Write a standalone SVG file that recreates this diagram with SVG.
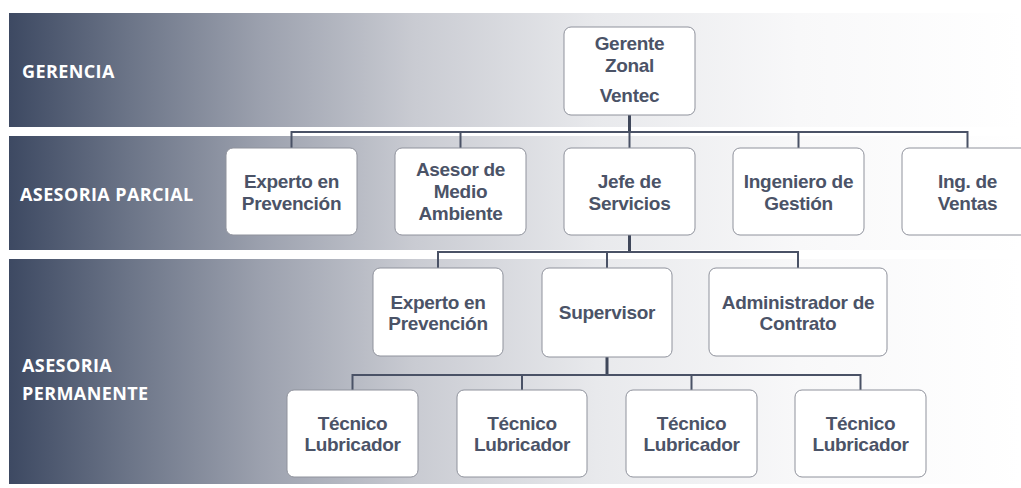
<svg xmlns="http://www.w3.org/2000/svg" width="1021" height="488" viewBox="0 0 1021 488">
<defs>
<linearGradient id="band" x1="9" y1="0" x2="1021" y2="0" gradientUnits="userSpaceOnUse">
<stop offset="0" stop-color="#3d4962"/>
<stop offset="0.12" stop-color="#6c7588"/>
<stop offset="0.25" stop-color="#9ca1ae"/>
<stop offset="0.4" stop-color="#c9cbd2"/>
<stop offset="0.58" stop-color="#e8e9ec"/>
<stop offset="0.78" stop-color="#f8f8f9"/>
<stop offset="1" stop-color="#ffffff"/>
</linearGradient>
<style>
.lbl{font-family:"Open Sans","Liberation Sans",sans-serif;font-weight:bold;font-size:18px;fill:#ffffff;letter-spacing:0.4px}
.box{fill:#ffffff;stroke:#8f929c;stroke-width:1}
.t{font-family:"Liberation Sans",Arial,sans-serif;font-weight:bold;font-size:19px;letter-spacing:-0.3px;fill:#4b5367;text-anchor:middle}
.c{fill:none;stroke:#4a5266;stroke-width:2}
.ct{fill:none;stroke:#3f475a;stroke-width:3}
</style>
</defs>
<rect width="1021" height="488" fill="#ffffff"/>
<g id="bands">
<rect x="9" y="13" width="1012" height="114" fill="url(#band)"/>
<rect x="9" y="136" width="1012" height="114" fill="url(#band)"/>
<rect x="9" y="259" width="1012" height="225" fill="url(#band)"/>
<text class="lbl" x="22" y="78">GERENCIA</text>
<text class="lbl" x="20" y="201">ASESORIA PARCIAL</text>
<text class="lbl" x="22" y="372">ASESORIA</text>
<text class="lbl" x="22" y="400">PERMANENTE</text>
</g>
<g id="connectors">
<path class="ct" d="M629.5 115V132"/>
<path class="c" d="M291.5 148V132H967.5V148M460.5 132V148M629.5 132V148M798.5 132V148"/>
<path class="ct" d="M629.5 235V252"/>
<path class="c" d="M438 268V252H798V268M607 252V268"/>
<path class="ct" d="M607 357V375"/>
<path class="c" d="M352.5 390V375H860.5V390M522 375V390M691.5 375V390"/>
</g>
<g id="gerente"><rect class="box" x="564" y="27" width="131" height="88" rx="7"/><text class="t" x="629.5" y="50">Gerente</text><text class="t" x="629.5" y="72">Zonal</text><text class="t" x="629.5" y="102">Ventec</text></g>
<g id="experto1"><rect class="box" x="226" y="148" width="131" height="87" rx="7"/><text class="t" x="291.5" y="188">Experto en</text><text class="t" x="291.5" y="210">Prevención</text></g>
<g id="asesor"><rect class="box" x="395" y="148" width="131" height="87" rx="7"/><text class="t" x="460.5" y="176">Asesor de</text><text class="t" x="460.5" y="198">Medio</text><text class="t" x="460.5" y="220">Ambiente</text></g>
<g id="jefe"><rect class="box" x="564" y="148" width="131" height="87" rx="7"/><text class="t" x="629.5" y="188">Jefe de</text><text class="t" x="629.5" y="210">Servicios</text></g>
<g id="ingeniero"><rect class="box" x="733" y="148" width="131" height="87" rx="7"/><text class="t" x="798.5" y="188">Ingeniero de</text><text class="t" x="798.5" y="210">Gestión</text></g>
<g id="ventas"><rect class="box" x="902" y="148" width="131" height="87" rx="7"/><text class="t" x="967.5" y="188">Ing. de</text><text class="t" x="967.5" y="210">Ventas</text></g>
<g id="experto2"><rect class="box" x="373" y="268" width="130" height="88" rx="7"/><text class="t" x="438" y="309">Experto en</text><text class="t" x="438" y="330">Prevención</text></g>
<g id="supervisor"><rect class="box" x="542" y="268" width="130" height="89" rx="7"/><text class="t" x="607" y="319">Supervisor</text></g>
<g id="administrador"><rect class="box" x="709" y="268" width="178" height="88" rx="7"/><text class="t" x="798" y="309">Administrador de</text><text class="t" x="798" y="330">Contrato</text></g>
<g id="tecnico1"><rect class="box" x="287" y="390" width="131" height="87" rx="7"/><text class="t" x="352.5" y="430">Técnico</text><text class="t" x="352.5" y="451">Lubricador</text></g>
<g id="tecnico2"><rect class="box" x="457" y="390" width="130" height="87" rx="7"/><text class="t" x="522" y="430">Técnico</text><text class="t" x="522" y="451">Lubricador</text></g>
<g id="tecnico3"><rect class="box" x="626" y="390" width="131" height="87" rx="7"/><text class="t" x="691.5" y="430">Técnico</text><text class="t" x="691.5" y="451">Lubricador</text></g>
<g id="tecnico4"><rect class="box" x="795" y="390" width="131" height="87" rx="7"/><text class="t" x="860.5" y="430">Técnico</text><text class="t" x="860.5" y="451">Lubricador</text></g>
</svg>
